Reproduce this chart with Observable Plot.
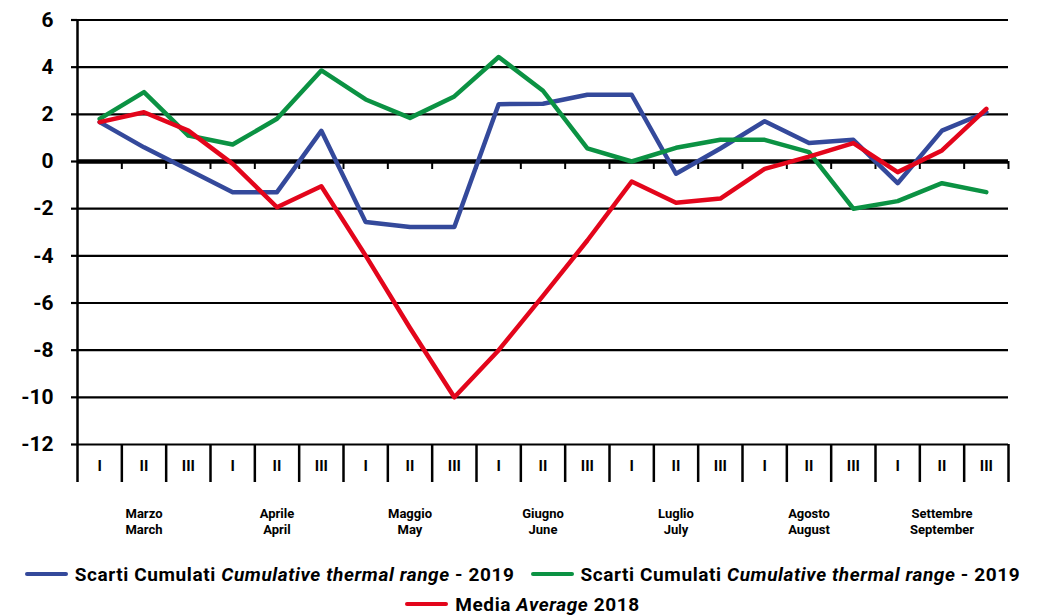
<!DOCTYPE html>
<html><head><meta charset="utf-8">
<script src="https://cdn.jsdelivr.net/npm/d3@7"></script>
<script src="https://cdn.jsdelivr.net/npm/@observablehq/plot@0.6"></script>
<style>
body{margin:0;background:#fff;overflow:hidden;font-family:"Liberation Sans Narrow","Roboto",sans-serif;}
#chart svg{display:block;}
#legend{margin-top:11px;font-weight:bold;font-size:19px;letter-spacing:0.6px;color:#000;}
.lrow{height:30px;display:flex;justify-content:center;align-items:center;}
.item{display:flex;align-items:center;margin:0 8px;white-space:pre;}
.sw{display:inline-block;width:43px;height:4px;border-radius:2px;margin-right:7px;}
</style></head><body>
<div id="chart"></div>
<div id="legend"></div>
<script>
// Dekads and months
const dekads = ["I", "II", "III"];
const months = ["Marzo\nMarch", "Aprile\nApril", "Maggio\nMay", "Giugno\nJune", "Luglio\nJuly", "Agosto\nAugust", "Settembre\nSeptember"];
const yTicks = [-12, -10, -8, -6, -4, -2, 0, 2, 4, 6];

// Series values (one per dekad, March I .. September III)
const scartiBlu2019 = [1.67, 0.6, -0.35, -1.3, -1.3, 1.3, -2.57, -2.78, -2.78, 2.43, 2.45, 2.83, 2.83, -0.52, 0.55, 1.71, 0.78, 0.92, -0.92, 1.31, 2.09];
const scartiVerde2019 = [1.81, 2.94, 1.1, 0.72, 1.81, 3.86, 2.63, 1.85, 2.76, 4.43, 3.0, 0.56, 0.0, 0.58, 0.92, 0.92, 0.4, -2.0, -1.68, -0.92, -1.3];
const media2018 = [1.67, 2.09, 1.31, -0.1, -1.94, -1.05, -3.99, -7.06, -10.0, -8.0, -5.7, -3.35, -0.85, -1.75, -1.57, -0.31, 0.21, 0.78, -0.45, 0.47, 2.23];

const seriesColors = ["#34499b", "#0b9243", "#e3051b"];
const legendRows = [
  [{name: ["Scarti Cumulati ", "Cumulative thermal range", " - 2019"], color: seriesColors[0]},
   {name: ["Scarti Cumulati ", "Cumulative thermal range", " - 2019"], color: seriesColors[1]}],
  [{name: ["Media ", "Average", " 2018"], color: seriesColors[2]}]
];

const n = media2018.length;
const rows = (vals) => vals.map((v, i) => ({pos: i + 0.5, val: v}));
const font = "'Liberation Sans Narrow', Roboto, sans-serif";

const chart = Plot.plot({
  width: 1045, height: 548,
  marginLeft: 77, marginRight: 37, marginTop: 19.5, marginBottom: 104,
  x: {domain: [0, n], label: null, axis: null},
  y: {domain: [-12, 6], label: null, axis: null},
  style: {fontFamily: font, fontWeight: "bold", color: "#000", background: "#fff"},
  marks: [
    Plot.ruleY(yTicks.filter(v => v !== 0), {stroke: "#000", strokeWidth: 2.2}),
    Plot.axisY({ticks: yTicks, tickSize: 6, tickPadding: 18, fontSize: 21, strokeWidth: 2.2, tickFormat: d => String(d), label: null}),
    Plot.axisX({ticks: d3.range(0, n + 1), tickSize: 38, tickFormat: () => "", strokeWidth: 2.5, label: null}),
    Plot.axisX({ticks: d3.range(n).map(i => i + 0.5), tickSize: 0, tickPadding: 16, tickFormat: d => dekads[Math.floor(d) % 3], fontSize: 15, label: null}),
    Plot.axisX({ticks: months.map((m, i) => i * 3 + 1.5), tickSize: 0, tickPadding: 62, tickFormat: d => months[Math.round((d - 1.5) / 3)], fontSize: 13, lineHeight: 1.25, label: null}),
    Plot.ruleX([0], {stroke: "#000", strokeWidth: 2.5}),
    Plot.ruleY([0], {stroke: "#000", strokeWidth: 4.5}),
    Plot.ruleX(d3.range(1, n + 1), {y1: 0, y2: 0, insetBottom: -8, stroke: "#000", strokeWidth: 2}),
    Plot.line(rows(scartiBlu2019), {x: "pos", y: "val", stroke: seriesColors[0], strokeWidth: 4.5}),
    Plot.line(rows(scartiVerde2019), {x: "pos", y: "val", stroke: seriesColors[1], strokeWidth: 4.5}),
    Plot.line(rows(media2018), {x: "pos", y: "val", stroke: seriesColors[2], strokeWidth: 4.5})
  ]
});
document.getElementById("chart").appendChild(chart);

const leg = document.getElementById("legend");
legendRows.forEach(r => {
  const row = document.createElement("div");
  row.className = "lrow";
  r.forEach(it => {
    const d = document.createElement("span");
    d.className = "item";
    d.innerHTML = `<span class="sw" style="background:${it.color}"></span><span>${it.name[0]}</span><i>${it.name[1]}</i><span>${it.name[2]}</span>`;
    row.appendChild(d);
  });
  leg.appendChild(row);
});
</script>
</body></html>
